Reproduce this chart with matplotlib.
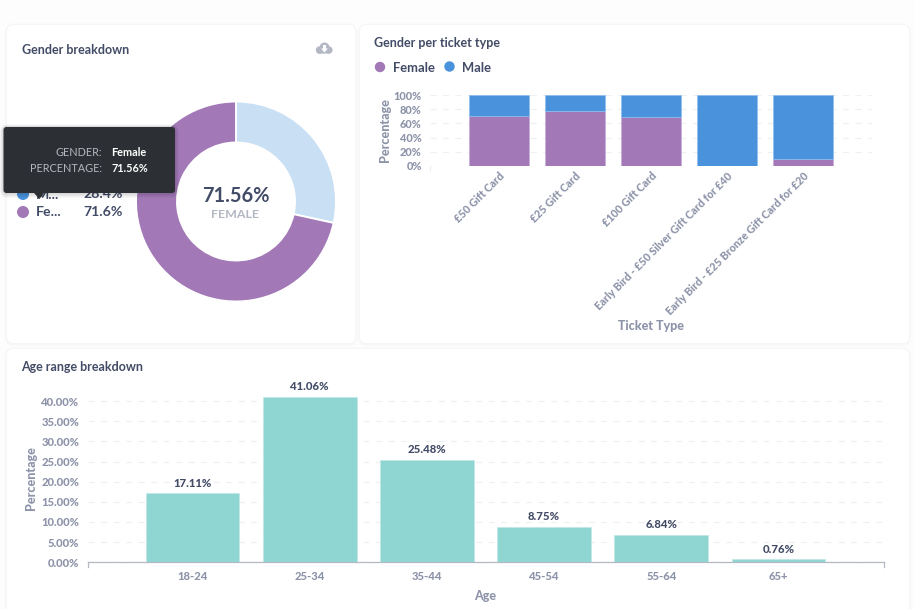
import matplotlib
matplotlib.use("Agg")
import matplotlib.pyplot as plt
from matplotlib.patches import FancyBboxPatch, Circle, Polygon

plt.rcParams['font.family'] = ['Lato', 'DejaVu Sans']

W, H = 915, 609
DARK = '#434C67'
GREY = '#8D93A9'
PURPLE = '#A278B7'
BLUE = '#4A92DC'
LIGHT = '#C8DFF4'
TEAL = '#8FD5D2'
GRID = '#EEF0F3'
HEAVY = 900

# data
gender_labels = ['Male', 'Female']
gender_values = [28.44, 71.56]
ticket_types = ['£50 Gift Card', '£25 Gift Card', '£100 Gift Card',
                'Early Bird - £50 Silver Gift Card for £40',
                'Early Bird - £25 Bronze Gift Card for £20']
ticket_female = [70, 77.5, 69, 0, 10]
ticket_male = [30, 22.5, 31, 100, 90]
ticket_ticks = [0, 20, 40, 60, 80, 100]
age_labels = ['18-24', '25-34', '35-44', '45-54', '55-64', '65+']
age_values = [17.11, 41.06, 25.48, 8.75, 6.84, 0.76]
age_ticks = [0, 5, 10, 15, 20, 25, 30, 35, 40]

fig = plt.figure(figsize=(W / 100, H / 100), dpi=100, facecolor='#FDFDFE')


def px_axes(l, t, r, b, **kw):
    return fig.add_axes([l / W, 1 - b / H, (r - l) / W, (b - t) / H], **kw)


bg = px_axes(0, 0, W, H, zorder=0)
bg.set_xlim(0, W); bg.set_ylim(H, 0); bg.axis('off')


def card(a, l, t, r, b, fc='white', rad=6, z=1, sc='#000000', sa=0.008, n=4):
    for i in range(n, 0, -1):
        a.add_patch(FancyBboxPatch((l - i * 0.7, t - i * 0.5), r - l + i * 1.4, b - t + i * 1.5,
                                   boxstyle=f'round,pad=0,rounding_size={rad + i}',
                                   fc=sc, ec='none', alpha=sa, zorder=z))
    a.add_patch(FancyBboxPatch((l, t), r - l, b - t, boxstyle=f'round,pad=0,rounding_size={rad}',
                               fc=fc, ec='none', zorder=z + 0.1))


card(bg, 7, 25, 355, 343)
card(bg, 360, 25, 909, 343)
card(bg, 7, 349, 909, 625)

bg.text(21.5, 49.5, 'Gender breakdown', fontsize=9.0, fontweight='bold', color=DARK, va='center', zorder=3)
bg.text(374.5, 43, 'Gender per ticket type', fontsize=9.0, fontweight='bold', color=DARK, va='center', zorder=3)
bg.text(21.5, 367, 'Age range breakdown', fontsize=9.0, fontweight='bold', color=DARK, va='center', zorder=3)

# download icon
for cx, cy, r in [(319.5, 50, 3.7), (324.5, 47.5, 5), (329, 50, 3.6)]:
    bg.add_patch(Circle((cx, cy), r, fc='#B4B8C4', ec='none', zorder=3))
bg.add_patch(Polygon([(316, 50), (332, 50), (330, 53.6), (318, 53.6)], fc='#B4B8C4', ec='none', zorder=3))
bg.add_patch(Polygon([(323, 45), (326, 45), (326, 48.5), (328, 48.5), (324.5, 52.5), (321, 48.5), (323, 48.5)],
                     fc='white', ec='none', zorder=4))

# ticket legend
bg.add_patch(Circle((380, 67), 5.2, fc=PURPLE, ec='none', zorder=3))
bg.text(392.5, 67.5, 'Female', fontsize=9.4, fontweight='bold', color=DARK, va='center', zorder=3)
bg.add_patch(Circle((449.5, 66.5), 5.2, fc=BLUE, ec='none', zorder=3))
bg.text(462, 67.5, 'Male', fontsize=9.4, fontweight='bold', color=DARK, va='center', zorder=3)

# donut
R = 100
ax_d = px_axes(236 - R, 201.5 - R, 236 + R, 201.5 + R, zorder=2)
ax_d.pie(gender_values, colors=[LIGHT, PURPLE], startangle=90, counterclock=False, radius=1,
         wedgeprops=dict(width=41 / 100, edgecolor='white', linewidth=1.4))
ax_d.set_xlim(-1, 1); ax_d.set_ylim(-1, 1)
ax_d.patch.set_alpha(0)

# stacked bars
ax_t = px_axes(430, 95, 872, 166, zorder=2)
ax_t.patch.set_alpha(0)
x = list(range(len(ticket_types)))
ax_t.bar(x, ticket_female, width=0.79, color=PURPLE, edgecolor='#C6AEDA', linewidth=0.5, zorder=3)
ax_t.bar(x, ticket_male, width=0.79, bottom=ticket_female, color=BLUE, edgecolor='#8DBDEE', linewidth=0.5, zorder=3)
ax_t.set_xlim(-0.908, 4.91)
ax_t.set_ylim(0, 100)
ax_t.set_yticks(ticket_ticks)
ax_t.set_yticklabels([f'{v}%' for v in ticket_ticks], fontsize=7.9, fontweight=HEAVY, color=GREY)
ax_t.set_xticks(x)
ax_t.set_xticklabels(ticket_types, rotation=45, ha='right', rotation_mode='anchor',
                     fontsize=7.75, fontweight=HEAVY, color=GREY)
ax_t.tick_params(axis='both', length=0, pad=6)
ax_t.tick_params(axis='x', pad=3)
ax_t.yaxis.grid(True, color=GRID, linewidth=0.9, linestyle=(0, (5, 5)), zorder=0)
ax_t.set_axisbelow(True)
for s in ax_t.spines.values():
    s.set_visible(False)
bg.text(385, 130, 'Percentage', rotation=90, fontsize=9, fontweight=HEAVY, color=GREY,
        ha='center', va='center', zorder=3)
bg.text(651.5, 325.5, 'Ticket Type', fontsize=9, fontweight=HEAVY, color=GREY,
        ha='center', va='center', zorder=3)
bg.plot([430, 430], [166, 171], color='#EEF0F3', lw=0.9, zorder=3)

# age bars
ax_a = px_axes(87.5, 393, 884, 562.3, zorder=2)
ax_a.patch.set_alpha(0)
xa = list(range(len(age_labels)))
ax_a.bar(xa, age_values, width=0.8, color=TEAL, edgecolor='#BFE8E5', linewidth=0.5, zorder=3)
ax_a.set_xlim(-0.896, 5.9)
ax_a.set_ylim(0, 42)
ax_a.set_yticks(age_ticks)
ax_a.set_yticklabels([f'{v:.2f}%' for v in age_ticks], fontsize=8.1, fontweight=HEAVY, color=GREY)
ax_a.set_xticks(xa)
ax_a.set_xticklabels(age_labels, fontsize=8.1, fontweight=HEAVY, color=GREY)
ax_a.tick_params(axis='both', length=0)
ax_a.tick_params(axis='y', pad=6)
ax_a.tick_params(axis='x', pad=6.5)
ax_a.yaxis.grid(True, color=GRID, linewidth=0.9, linestyle=(0, (5, 5)), zorder=0)
ax_a.set_axisbelow(True)
for s in ('top', 'right', 'left'):
    ax_a.spines[s].set_visible(False)
ax_a.spines['bottom'].set_color('#B5B8C0')
ax_a.spines['bottom'].set_linewidth(0.9)
for xi, v in zip(xa, age_values):
    ax_a.annotate(f'{v:.2f}%', (xi, v), xytext=(0, 3.4), textcoords='offset points', ha='center', va='bottom',
                  fontsize=8.2, fontweight=HEAVY, color=DARK, annotation_clip=False)
bg.plot([87.5, 87.5], [562, 567], color='#B5B8C0', lw=0.9, zorder=3)
bg.plot([884, 884], [562, 567], color='#B5B8C0', lw=0.9, zorder=3)
bg.text(31, 478.5, 'Percentage', rotation=90, fontsize=9, fontweight=HEAVY, color=GREY,
        ha='center', va='center', zorder=3)
bg.text(485, 596, 'Age', fontsize=9, fontweight=HEAVY, color=GREY, ha='center', va='center', zorder=3)

# foreground overlay: centre label, legend, tooltip
fg = px_axes(0, 0, W, H, zorder=5)
fg.set_xlim(0, W); fg.set_ylim(H, 0); fg.axis('off'); fg.patch.set_alpha(0)
fg.text(235.5, 196, f'{gender_values[1]:.2f}%', fontsize=14.4, fontweight='bold', color=DARK, ha='center', va='center')
fg.text(235.5, 214.5, 'FEMALE', fontsize=8.9, fontweight='bold', color='#B3B7C3', ha='center', va='center')

fg.add_patch(Circle((23, 194), 6, fc=BLUE, ec='none', zorder=2))
fg.text(36, 195, 'M...', fontsize=10.2, fontweight='bold', color=DARK, va='center', zorder=2)
fg.text(123, 194.5, f'{gender_values[0]:.1f}%', fontsize=10.2, fontweight='bold', color=DARK, ha='right', va='center', zorder=2)
fg.add_patch(Circle((23, 212), 6, fc=PURPLE, ec='none', zorder=2))
fg.text(36, 212.5, 'Fe...', fontsize=10.2, fontweight='bold', color=DARK, va='center', zorder=2)
fg.text(123, 212, f'{gender_values[1]:.1f}%', fontsize=10.2, fontweight='bold', color=DARK, ha='right', va='center', zorder=2)

card(fg, 3.5, 127, 175, 193, fc='#2C3034', rad=3, z=3, sa=0.03, n=5)
fg.add_patch(Polygon([(34, 193), (44, 193), (39.5, 199)], fc='#2C3034', ec='none', zorder=3.5))
fg.text(102, 152.5, 'GENDER:', fontsize=7.8, color='#B4B8BE', ha='right', va='center', zorder=4)
fg.text(102, 168.5, 'PERCENTAGE:', fontsize=7.8, color='#B4B8BE', ha='right', va='center', zorder=4)
fg.text(111, 152.5, gender_labels[1], fontsize=7.8, fontweight='bold', color='white', va='center', zorder=4)
fg.text(111, 168.5, f'{gender_values[1]:.2f}%', fontsize=7.8, fontweight='bold', color='white', va='center', zorder=4)

fig.savefig('out.png', dpi=100, facecolor=fig.get_facecolor())
